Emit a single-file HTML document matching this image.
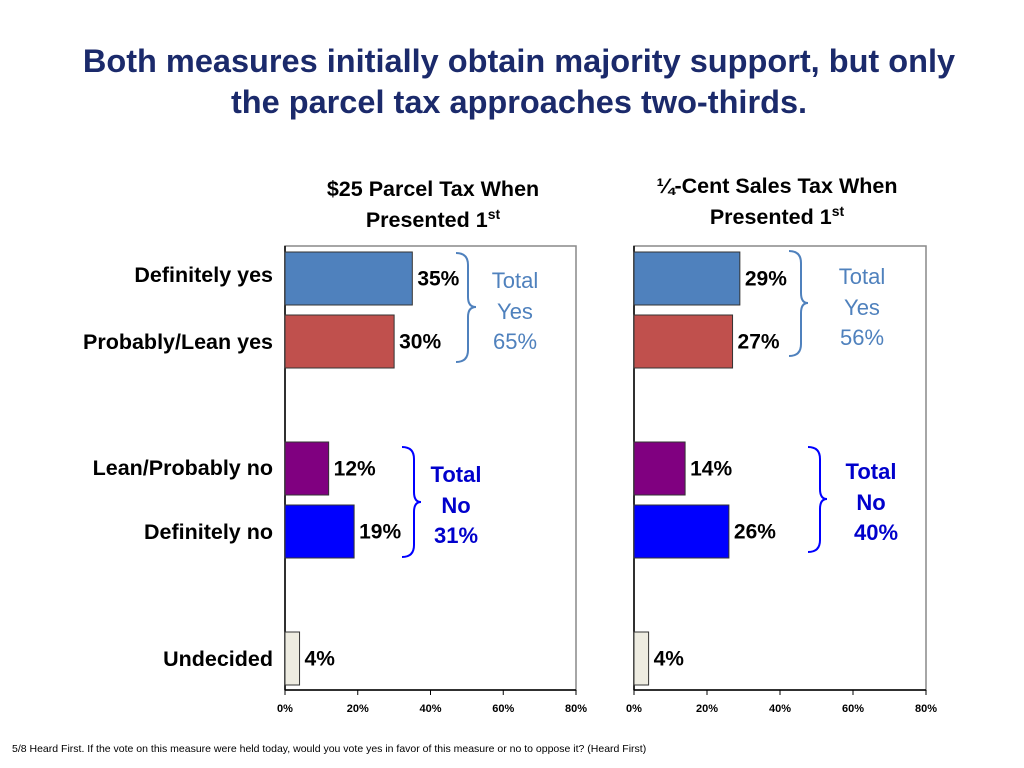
<!DOCTYPE html>
<html><head><meta charset="utf-8"><style>
body{margin:0;background:#fff;width:1024px;height:768px;overflow:hidden}
svg{display:block}
</style></head><body>
<svg id="chart" width="1024" height="768" xmlns="http://www.w3.org/2000/svg" font-family="Liberation Sans, Arial, sans-serif">
<text x="519" y="72" text-anchor="middle" font-size="32.5" font-weight="bold" fill="#1b2a6b">Both measures initially obtain majority support, but only</text>
<text x="519" y="113" text-anchor="middle" font-size="32.5" font-weight="bold" fill="#1b2a6b">the parcel tax approaches two-thirds.</text>
<text x="433" y="196" text-anchor="middle" font-size="21.5" font-weight="bold">$25 Parcel Tax When</text>
<text x="433" y="227" text-anchor="middle" font-size="21.5" font-weight="bold">Presented 1<tspan font-size="14" dy="-8">st</tspan></text>
<text x="777" y="193" text-anchor="middle" font-size="21.5" font-weight="bold">¼-Cent Sales Tax When</text>
<text x="777" y="224" text-anchor="middle" font-size="21.5" font-weight="bold">Presented 1<tspan font-size="14" dy="-8">st</tspan></text>
<g id="plots"></g>
<path d="M456,253 Q468,253 468,265 L468,297 Q468,307 476,307 Q468,307 468,317 L468,350 Q468,362 456,362" fill="none" stroke="#4f81bd" stroke-width="2"/>
<text x="515" y="288" text-anchor="middle" font-size="22" fill="#4f81bd">Total</text>
<text x="515" y="319" text-anchor="middle" font-size="22" fill="#4f81bd">Yes</text>
<text x="515" y="349" text-anchor="middle" font-size="22" fill="#4f81bd">65%</text>
<path d="M402,447 Q414,447 414,459 L414,492 Q414,502 421,502 Q414,502 414,512 L414,545 Q414,557 402,557" fill="none" stroke="#0000ff" stroke-width="2"/>
<text x="456" y="482" text-anchor="middle" font-size="22" font-weight="bold" fill="#0000cc">Total</text>
<text x="456" y="513" text-anchor="middle" font-size="22" font-weight="bold" fill="#0000cc">No</text>
<text x="456" y="543" text-anchor="middle" font-size="22" font-weight="bold" fill="#0000cc">31%</text>
<path d="M789,251 Q801,251 801,263 L801,293 Q801,303 808,303 Q801,303 801,313 L801,344 Q801,356 789,356" fill="none" stroke="#4f81bd" stroke-width="2"/>
<text x="862" y="284" text-anchor="middle" font-size="22" fill="#4f81bd">Total</text>
<text x="862" y="315" text-anchor="middle" font-size="22" fill="#4f81bd">Yes</text>
<text x="862" y="345" text-anchor="middle" font-size="22" fill="#4f81bd">56%</text>
<path d="M808,447 Q820,447 820,459 L820,489 Q820,499 827,499 Q820,499 820,509 L820,540 Q820,552 808,552" fill="none" stroke="#0000ff" stroke-width="2"/>
<text x="871" y="479" text-anchor="middle" font-size="22" font-weight="bold" fill="#0000cc">Total</text>
<text x="871" y="510" text-anchor="middle" font-size="22" font-weight="bold" fill="#0000cc">No</text>
<text x="876" y="540" text-anchor="middle" font-size="22" font-weight="bold" fill="#0000cc">40%</text>
<text x="12" y="752" font-size="10.5">5/8 Heard First. If the vote on this measure were held today, would you vote yes in favor of this measure or no to oppose it? (Heard First)</text>
</svg>
<script>
const categories=["Definitely yes","Probably/Lean yes","Lean/Probably no","Definitely no","Undecided"];
const parcelValues=[35,30,12,19,4];
const salesValues=[29,27,14,26,4];
const tickValues=[0,20,40,60,80];
const colors=["#4f81bd","#c0504d","#800080","#0000ff","#eeece1"];
const NS="http://www.w3.org/2000/svg";
const g=document.getElementById("plots");
const yTop=[252,315,442,505,632], barH=53;
const catY=[282,349,475,539,666];
function mk(tag,attrs,parent){const e=document.createElementNS(NS,tag);for(const k in attrs)e.setAttribute(k,attrs[k]);(parent||g).appendChild(e);return e;}
function drawPlot(x0,x1,vals,prefix,showCats){
  const xs=v=>x0+(v/80)*(x1-x0);
  const box=mk("rect",{x:x0,y:246,width:x1-x0,height:444,fill:"#fff",stroke:"#888","stroke-width":1.5});
  
  
  const ax=mk("line",{x1:x0,y1:246,x2:x0,y2:690,stroke:"#000","stroke-width":1.5});
  
  
  const bx=mk("line",{x1:x0,y1:690,x2:x1,y2:690,stroke:"#000","stroke-width":1.5});
  
  
  tickValues.forEach(t=>{
    const tk=mk("line",{x1:xs(t),y1:690,x2:xs(t),y2:695,stroke:"#000"});
    
    
    const tl=mk("text",{x:xs(t),y:712,"text-anchor":"middle","font-size":11,"font-weight":"bold"});
    tl.textContent=t+"%";
    
    
  });
  vals.forEach((v,i)=>{
    const r=mk("rect",{x:xs(0),y:yTop[i],width:xs(v)-xs(0),height:barH,fill:colors[i],stroke:"#333","stroke-width":1});
    
    
    const l=mk("text",{x:xs(v)+5,y:yTop[i]+barH/2+7,"font-size":21,"font-weight":"bold"});
    l.textContent=v+"%";
    
    
    if(showCats){
      const c=mk("text",{x:273,y:catY[i],"text-anchor":"end","font-size":21.5,"font-weight":"bold"});
      c.textContent=categories[i];
      
      
    }
  });
}
drawPlot(285,576,parcelValues,"parcel",true);
drawPlot(634,926,salesValues,"sales",false);
</script>
</body></html>
